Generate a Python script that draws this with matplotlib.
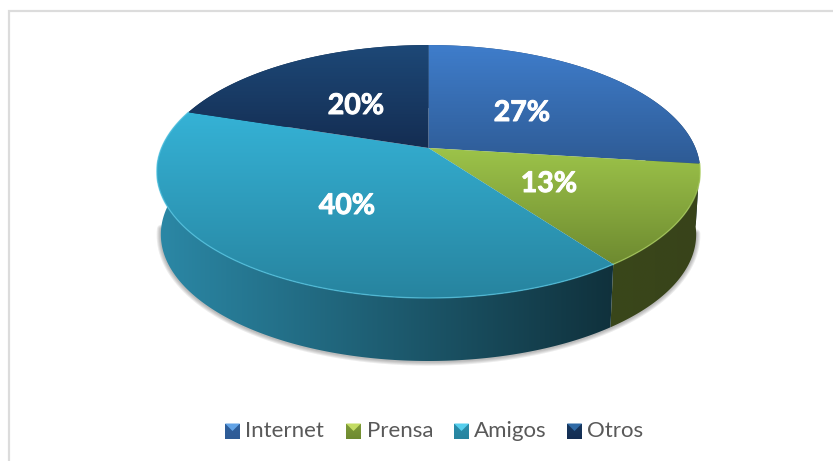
import numpy as np
import matplotlib
matplotlib.use('Agg')
import matplotlib.pyplot as plt
import matplotlib.patheffects as pe
from matplotlib.patches import Polygon
from matplotlib.colors import to_rgb

labels = ['Internet', 'Prensa', 'Amigos', 'Otros']
values = [27, 13, 40, 20]
texts = ['27%', '13%', '40%', '20%']

# colores de cada porcion: arriba, abajo de la cara
top_a = ['#3f7dcb', '#9dc44a', '#35b2d6', '#1d4877']
top_b = ['#2e5b95', '#6e8a30', '#27849f', '#142d52']
# colores del lateral: izquierda, derecha
side_a = ['#2a5080', '#3a471a', '#2b88a6', '#15304f']
side_b = ['#1d3a5e', '#38431a', '#10313c', '#15304f']
rim = ['#4a88d0', '#a9cd5c', '#52c4e2', '#28568a']
# cuadros de la leyenda: lados y brillo
key_mid = ['#2f5f9c', '#7d9a38', '#2a8dab', '#17375f']
key_top = ['#62a3e6', '#c3dc63', '#56cfee', '#2f6aa6']

plt.rcParams['font.family'] = ['Lato', 'DejaVu Sans']

fig = plt.figure(figsize=(8.33, 4.61), dpi=100)
ax = fig.add_axes([0, 0, 1, 1])
ax.set_xlim(0, 833)
ax.set_ylim(461, 0)
ax.axis('off')

# proyeccion del disco con perspectiva
cx, cy = 428.5, 148.0
bx, by, k = 267.0, 122.1, -0.186
depth = 63.0


def rim_pts(a0, a1, low=False):
    t = np.radians(np.linspace(a0, a1, max(int(abs(a1 - a0) * 2), 2)))
    u = np.sin(t)
    v = -np.cos(t)
    d = 1 + k * v
    x = cx + bx * u / d
    y = cy + by * v / d
    if low:
        x = cx + (x - cx) * 0.985
        y = y + depth
    return np.column_stack([x, y])


def grad_fill(pts, c0, c1, horizontal=False, x0=None, x1=None, z=2):
    c0 = np.array(to_rgb(c0))
    c1 = np.array(to_rgb(c1))
    s = np.linspace(0, 1, 200)[:, None]
    img = c0 * (1 - s) + c1 * s
    xa, xb = pts[:, 0].min(), pts[:, 0].max()
    ya, yb = pts[:, 1].min(), pts[:, 1].max()
    if horizontal:
        img = img[None, :, :]
        xa, xb = x0, x1
    else:
        img = img[:, None, :]
    im = ax.imshow(img, extent=(xa, xb, yb, ya), origin='upper', aspect='auto',
                   interpolation='bilinear', zorder=z)
    p = Polygon(pts, closed=True, transform=ax.transData, fc='none', ec='none')
    ax.add_patch(p)
    im.set_clip_path(p)


# marco del grafico
ax.plot([9.5, 9.5, 833], [461, 11.5, 11.5], color='#dcdcdc', lw=1.6, zorder=1,
        solid_joinstyle='miter')

angles = np.cumsum([0] + values) / np.sum(values) * 360.0

# sombra debajo del lateral
low_all = rim_pts(100, 262, low=True)
for w in [6, 4.5, 3, 1.5]:
    ax.plot(low_all[:, 0], low_all[:, 1] + 0.5, color='#444444', alpha=0.1, lw=w,
            zorder=1.5, solid_capstyle='round')

# laterales
for i in range(len(values)):
    a0, a1 = angles[i], angles[i + 1]
    upper = rim_pts(a0, a1)
    lower = rim_pts(a0, a1, low=True)
    wall = np.vstack([upper, lower[::-1]])
    grad_fill(wall, side_a[i], side_b[i], horizontal=True,
              x0=wall[:, 0].min(), x1=wall[:, 0].max(), z=2)

# caras superiores
for i in range(len(values)):
    a0, a1 = angles[i], angles[i + 1]
    arc = rim_pts(a0, a1)
    face = np.vstack([[cx, cy], arc])
    grad_fill(face, top_a[i], top_b[i], z=3)
    # brillo solo en el borde delantero
    if a0 >= 90 and a1 <= 288:
        ax.plot(arc[:, 0], arc[:, 1], color=rim[i], lw=1.0, alpha=0.7, zorder=4)

# etiquetas de porcentaje
text_x = [522, 549, 347, 356]
text_y = [113, 184, 206, 106]
for tx, ty, s in zip(text_x, text_y, texts):
    ax.text(tx, ty, s, color='white', fontsize=20.5, fontweight='bold',
            ha='center', va='center', zorder=6,
            path_effects=[pe.withStroke(linewidth=0.7, foreground='white')])

# leyenda
swatch_x = [225, 346, 454, 567]
label_x = [245, 367, 474, 587]
size = 15
yc = 431
for i in range(len(labels)):
    x0 = swatch_x[i]
    y0 = yc - size / 2
    grad_fill(np.array([[x0, y0], [x0 + size, y0], [x0 + size, y0 + size], [x0, y0 + size]]),
              key_mid[i], top_b[i], z=5)
    m = (x0 + size / 2, yc)
    ax.add_patch(Polygon([(x0, y0), (x0 + size, y0), m], fc=key_top[i], ec='none', zorder=6))
    ax.text(label_x[i], yc - 0.5, labels[i], color='#595959', fontsize=16,
            ha='left', va='center', zorder=6)

ax.set_xlim(0, 833)
ax.set_ylim(461, 0)
fig.savefig('out.png', dpi=100)
